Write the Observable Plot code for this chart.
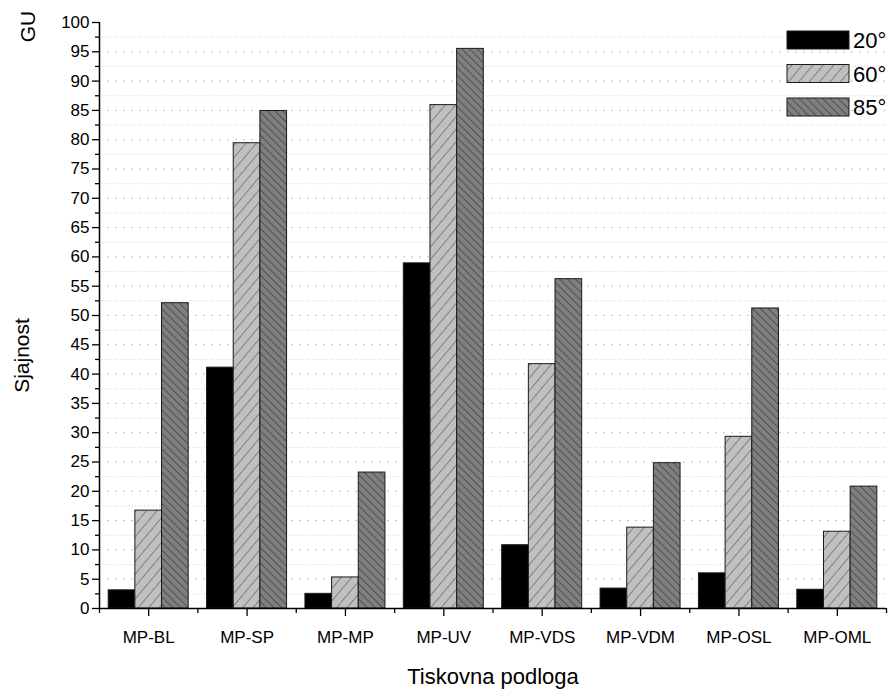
<!DOCTYPE html>
<html>
<head>
<meta charset="utf-8">
<script src="https://cdn.jsdelivr.net/npm/d3@7"></script>
<script src="https://cdn.jsdelivr.net/npm/@observablehq/plot@0.6"></script>
<style>
  body { margin: 0; background: #fff; }
  #chart { position: relative; width: 893px; height: 698px; }
</style>
</head>
<body>
<div id="chart"></div>
<script>
const categories = ["MP-BL", "MP-SP", "MP-MP", "MP-UV", "MP-VDS", "MP-VDM", "MP-OSL", "MP-OML"];
const series = ["20°", "60°", "85°"];
const gloss20 = [3.1, 41.1, 2.5, 58.9, 10.8, 3.4, 6.0, 3.2];
const gloss60 = [16.7, 79.4, 5.3, 85.9, 41.7, 13.8, 29.3, 13.1];
const gloss85 = [52.1, 84.9, 23.2, 95.5, 56.2, 24.8, 51.2, 20.8];
const yTicks = d3.range(0, 101, 5);
const yMinorTicks = d3.range(2.5, 100, 5);

const fills = ["#000000", "url(#pat60)", "url(#pat85)"];
const valuesBySeries = [gloss20, gloss60, gloss85];
const rows = [];
series.forEach((s, k) => {
  categories.forEach((c, i) => rows.push({cat: c, idx: i, series: s, k, value: valuesBySeries[k][i]}));
});

const groupHalf = 0.4066;
const barW = groupHalf * 2 / 3;
const font = "'Liberation Sans', Arial, sans-serif";

const plot = Plot.plot({
  width: 893,
  height: 698,
  marginLeft: 99,
  marginRight: 7,
  marginTop: 22,
  marginBottom: 90,
  style: {fontFamily: font, background: "#fff", color: "#000"},
  x: {type: "linear", domain: [-0.5, 7.5], axis: null},
  y: {domain: [0, 100], axis: null},
  marks: [
    Plot.gridY(yMinorTicks, {stroke: "#aaa", strokeOpacity: 0.5, strokeDasharray: "1,2"}),
    Plot.gridY(yTicks.filter(t => t > 0 && t < 100), {stroke: "#999", strokeOpacity: 0.6, strokeDasharray: "2,6"}),
    ...series.map((s, k) => Plot.rectY(rows.filter(r => r.k === k), {
      x1: d => d.idx - groupHalf + d.k * barW,
      x2: d => d.idx - groupHalf + (d.k + 1) * barW,
      y1: 0,
      y2: "value",
      fill: fills[k],
      stroke: "#1a1a1a",
      strokeWidth: 1
    })),
    Plot.axisY(yTicks, {tickSize: 7, tickPadding: 3, fontSize: 17, label: null, stroke: "#000", strokeWidth: 1.3}),
    Plot.axisY(yMinorTicks, {tickSize: 4, tickFormat: () => "", label: null, stroke: "#000", strokeWidth: 1.3}),
    Plot.axisX(d3.range(categories.length), {tickSize: 8, tickPadding: 14, fontSize: 17, tickFormat: i => categories[i], label: null, stroke: "#000", strokeWidth: 1.3}),
    Plot.axisX(d3.range(-0.5, categories.length, 1), {tickSize: 5, tickFormat: () => "", label: null, stroke: "#000", strokeWidth: 1.3}),
    Plot.ruleX([-0.5], {stroke: "#000", strokeWidth: 1.5}),
    Plot.ruleY([0], {stroke: "#000", strokeWidth: 1.5}),
    Plot.text(["GU"], {frameAnchor: "top-left", dx: -79, dy: 4, rotate: -90, fontSize: 21, textAnchor: "middle"}),
    Plot.text(["Sjajnost"], {frameAnchor: "left", dx: -77, dy: 40, rotate: -90, fontSize: 21, textAnchor: "middle"}),
    Plot.text(["Tiskovna podloga"], {frameAnchor: "bottom", dy: 75, fontSize: 22})
  ]
});

const svg = d3.select(plot);
const defs = svg.insert("defs", ":first-child");
const p60 = defs.append("pattern").attr("id", "pat60").attr("patternUnits", "userSpaceOnUse")
  .attr("width", 8).attr("height", 8).attr("patternTransform", "rotate(40)");
p60.append("rect").attr("width", 8).attr("height", 8).attr("fill", "#c0c0c0");
p60.append("line").attr("x1", 0).attr("y1", 0).attr("x2", 0).attr("y2", 8).attr("stroke", "#4a4a4a").attr("stroke-width", 1.1);
const p85 = defs.append("pattern").attr("id", "pat85").attr("patternUnits", "userSpaceOnUse")
  .attr("width", 5.5).attr("height", 8).attr("patternTransform", "rotate(-45)");
p85.append("rect").attr("width", 5.5).attr("height", 8).attr("fill", "#7f7f7f");
p85.append("line").attr("x1", 0).attr("y1", 0).attr("x2", 0).attr("y2", 8).attr("stroke", "#2a2a2a").attr("stroke-width", 1.1);

// legend
const lg = svg.append("g").attr("font-family", font).attr("font-size", 22).attr("text-anchor", "start");
series.forEach((s, k) => {
  const y0 = 31 + k * 33.5;
  lg.append("rect").attr("x", 787).attr("y", y0).attr("width", 62).attr("height", 18)
    .attr("fill", fills[k]).attr("stroke", "#1a1a1a").attr("stroke-width", 1);
  lg.append("text").attr("x", 853).attr("y", y0 + 17).attr("fill", "#000").attr("text-anchor", "start").text(s);
});

document.getElementById("chart").appendChild(plot);
</script>
</body>
</html>
